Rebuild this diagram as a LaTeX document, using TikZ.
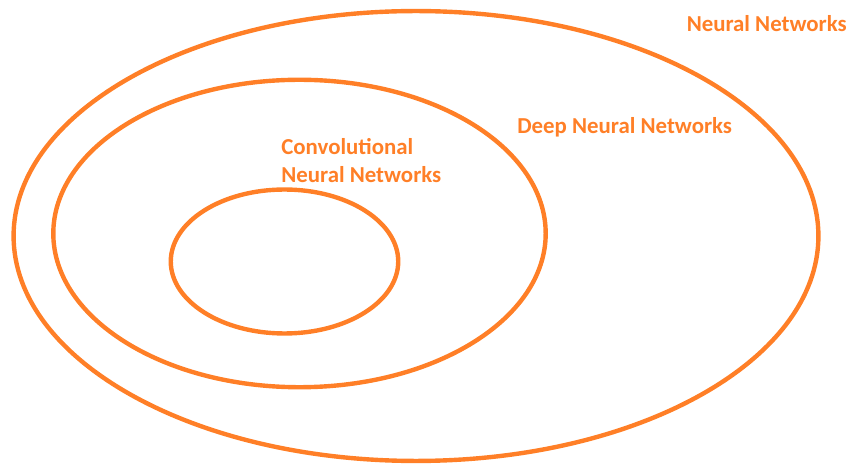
\documentclass[tikz,border=0pt]{standalone}
\usepackage{fontspec}
\setmainfont{Carlito}
\usepackage{tikz}
\usetikzlibrary{shapes.geometric}
\definecolor{paintorange}{HTML}{FF7F27}
\tikzstyle{ring} = [draw=paintorange, line width=2.5pt, ellipse, inner sep=0pt]
\tikzstyle{setlabel} = [text=paintorange, font=\bfseries\fontsize{13}{16.2}\selectfont, inner sep=0pt]

\begin{document}
\begin{tikzpicture}[x=0.02cm, y=-0.02cm]
\useasboundingbox (0,0) rectangle (863,476);
\node [ring, minimum width=16.1cm, minimum height=9.0cm] (nn) at (416,236) {};
\node [ring, minimum width=9.85cm, minimum height=6.15cm] (dnn) at (299.5,233.5) {};
\node [ring, minimum width=4.55cm, minimum height=2.88cm] (cnn) at (284.5,261.5) {};
\node [setlabel, anchor=base east] (nnlabel) at (847,32) {Neural Networks};
\node [setlabel, anchor=base west] (dnnlabel) at (517,134) {Deep Neural Networks};
\node [setlabel, anchor=north west, align=left] (cnnlabel) at (281,138) {Convolutional\\Neural Networks};
\end{tikzpicture}
\end{document}
